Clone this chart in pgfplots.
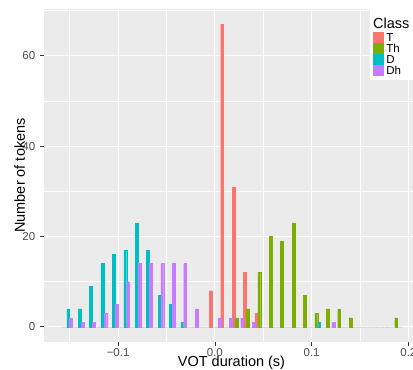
\documentclass[border=0pt]{standalone}
\usepackage{pgfplots}
\usepackage{pgfplotstable}
\pgfplotsset{compat=1.18}
\usepackage{fontspec}
\setmainfont{Liberation Sans}
\definecolor{cT}{HTML}{F8766D}
\definecolor{cTh}{HTML}{7CAE00}
\definecolor{cD}{HTML}{00BFC4}
\definecolor{cDh}{HTML}{C77CFF}
\definecolor{panel}{HTML}{EBEBEB}
\definecolor{ticktxt}{HTML}{4D4D4D}
\definecolor{tickcol}{HTML}{333333}
\pgfplotstableread{
c T Th D Dh
-0.15306 0 0 4 2
-0.14127 0 0 4 1
-0.12948 0 0 9 1
-0.11769 0 0 14 3
-0.10590 0 0 16 5
-0.09411 0 0 17 10
-0.08233 0 0 23 14
-0.07054 0 0 17 14
-0.05875 0 0 7 14
-0.04696 0 0 5 14
-0.03517 0 0 1 14
-0.02338 0 0 0 4
-0.01159 0 0 0 0
0.00020 8 0 0 2
0.01199 67 0 0 2
0.02378 31 2 0 2
0.03557 12 4 0 1
0.04735 3 12 0 0
0.05914 0 20 0 0
0.07093 0 19 0 0
0.08272 0 23 0 0
0.09451 0 7 0 0
0.10630 0 3 1 0
0.11809 0 4 0 1
0.12988 0 4 0 0
0.14167 0 2 0 0
0.15346 0 0 0 0
0.16525 0 0 0 0
0.17703 0 0 0 0
0.18882 0 2 0 0
}\hist
\begin{document}
\begin{tikzpicture}
\begin{axis}[
  scale only axis,
  width=369pt, height=333pt,
  xmin=-0.1766, xmax=0.2048,
  ymin=-3.35, ymax=70.35,
  axis background/.style={fill=panel},
  axis line style={draw=none},
  ybar, bar width=0.0029473,
  xtick={-0.1,0,0.1,0.2},
  xticklabels={−0.1,0.0,0.1,0.2},
  ytick={0,20,40,60},
  yticklabels={0,20,40,60},
  minor xtick={-0.15,-0.05,0.05,0.15},
  minor ytick={10,30,50,70},
  grid=both,
  major grid style={white, line width=1.1pt},
  minor grid style={white, line width=0.55pt},
  tick pos=left,
  tick align=outside,
  major tick length=3.6pt,
  minor tick length=0pt,
  tick style={tickcol, line width=0.7pt},
  every tick label/.append style={font=\fontsize{11.5}{12}\selectfont, text=ticktxt, inner sep=0pt},
  xticklabel style={anchor=base, yshift=-10.5pt},
  yticklabel style={anchor=east, xshift=-5pt},
  xlabel={VOT duration (s)},
  label style={font=\fontsize{14.5}{15}\selectfont, inner sep=0pt},
  xlabel style={at={(axis description cs:0.5,0)}, anchor=base, yshift=-25pt, xshift=3pt},
  legend style={at={(0.8916,0.9309)}, anchor=north west, fill=none, draw=none,
    inner sep=0pt, outer sep=0pt, row sep=0.4pt, column sep=3pt,
    font=\fontsize{11.5}{12}\selectfont,
    nodes={inner sep=0pt, outer sep=0pt, text height=8pt, text depth=1.5pt}},
  legend cell align=left,
  legend image code/.code={\fill[#1] (0pt,-4.15pt) rectangle (10pt,5.85pt);},
]
\addplot[fill=cT, draw=cT, line width=0.3pt, bar shift=-0.0044210] table[x=c,y=T]{\hist};
\addplot[fill=cTh, draw=cTh, line width=0.3pt, bar shift=-0.0014737] table[x=c,y=Th]{\hist};
\addplot[fill=cD, draw=cD, line width=0.3pt, bar shift=0.0014737] table[x=c,y=D]{\hist};
\addplot[fill=cDh, draw=cDh, line width=0.3pt, bar shift=0.0044210] table[x=c,y=Dh]{\hist};
\legend{T,Th,D,Dh}
\fill[white] (rel axis cs:0.8835,0.7868) rectangle (rel axis cs:1.02,1);
\node[anchor=base west, font=\fontsize{14.5}{15}\selectfont, inner sep=0pt] at (rel axis cs:0.8916,0.9420) {Class};
\coordinate (bl) at (rel axis cs:0,0);
\coordinate (tr) at (rel axis cs:1,1);
\coordinate (ml) at (rel axis cs:0,0.5);
\end{axis}
\node[rotate=90, anchor=base, font=\fontsize{14.5}{15}\selectfont, inner sep=0pt] at ([xshift=-19pt]ml) {Number of tokens};
\pgfresetboundingbox
\useasboundingbox ([xshift=-44pt,yshift=-28pt]bl) rectangle ([yshift=9pt]tr);
\end{tikzpicture}
\end{document}
